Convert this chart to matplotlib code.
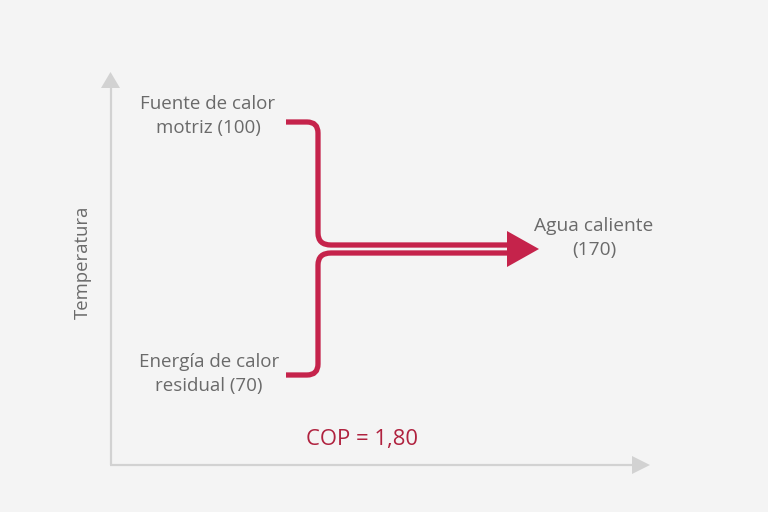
import matplotlib
matplotlib.use("Agg")
import matplotlib.pyplot as plt
from matplotlib.path import Path
from matplotlib.patches import PathPatch, Polygon

# ---- data ----
input_labels = ["Fuente de calor\nmotriz", "Energía de calor\nresidual"]
input_values = [100, 70]
output_label = "Agua caliente"
output_value = 170
cop_value = 1.80
y_axis_label = "Temperatura"

RED = "#c5234b"
GRAY_TXT = "#6a6a6a"
AXIS = "#d2d2d2"
BG = "#f4f4f4"

fig = plt.figure(figsize=(7.68, 5.12), dpi=100, facecolor=BG)
ax = fig.add_axes([0, 0, 1, 1])
ax.set_facecolor(BG)
ax.set_xlim(0, 768)
ax.set_ylim(512, 0)
ax.axis("off")

# axes lines
ax.plot([110.5, 110.5], [465, 86], color=AXIS, lw=1.6, solid_capstyle="butt")
ax.plot([110, 634], [465, 465], color=AXIS, lw=1.6, solid_capstyle="butt")
ax.add_patch(Polygon([(101, 88), (120, 88), (110.5, 72)], closed=True, color=AXIS, lw=0))
ax.add_patch(Polygon([(632, 456), (632, 474), (650, 465)], closed=True, color=AXIS, lw=0))

# flow paths
lw = 3.8
top = Path([(286, 122), (307, 122), (318, 122), (318, 133),
            (318, 233), (318, 245), (331, 245), (508, 245)],
           [Path.MOVETO, Path.LINETO, Path.CURVE3, Path.CURVE3,
            Path.LINETO, Path.CURVE3, Path.CURVE3, Path.LINETO])
bot = Path([(286, 375), (307, 375), (318, 375), (318, 364),
            (318, 265), (318, 253), (331, 253), (508, 253)],
           [Path.MOVETO, Path.LINETO, Path.CURVE3, Path.CURVE3,
            Path.LINETO, Path.CURVE3, Path.CURVE3, Path.LINETO])
for p in (top, bot):
    ax.add_patch(PathPatch(p, facecolor="none", edgecolor=RED, lw=lw, capstyle="butt", joinstyle="round"))
ax.add_patch(Polygon([(507, 231), (539, 249), (507, 267)], closed=True, color=RED, lw=0))

font = "Open Sans"
fs = 13.5
ax.text(208, 116, f"{input_labels[0]} ({input_values[0]})", ha="center", va="center",
        fontsize=fs, color=GRAY_TXT, family=font, linespacing=1.48)
ax.text(209, 374, f"{input_labels[1]} ({input_values[1]})", ha="center", va="center",
        fontsize=fs, color=GRAY_TXT, family=font, linespacing=1.48)
ax.text(594, 238, f"{output_label}\n({output_value})", ha="center", va="center",
        fontsize=fs + 0.3, color=GRAY_TXT, family=font, linespacing=1.48)
ax.text(83, 262, y_axis_label, ha="center", va="center", rotation=90,
        fontsize=fs - 0.2, color=GRAY_TXT, family=font)
ax.text(362, 439, f"COP = {cop_value:.2f}".replace(".", ","), ha="center", va="center",
        fontsize=15.8, color="#b0223f", family=font)

fig.savefig("out.png", dpi=100, facecolor=BG)
